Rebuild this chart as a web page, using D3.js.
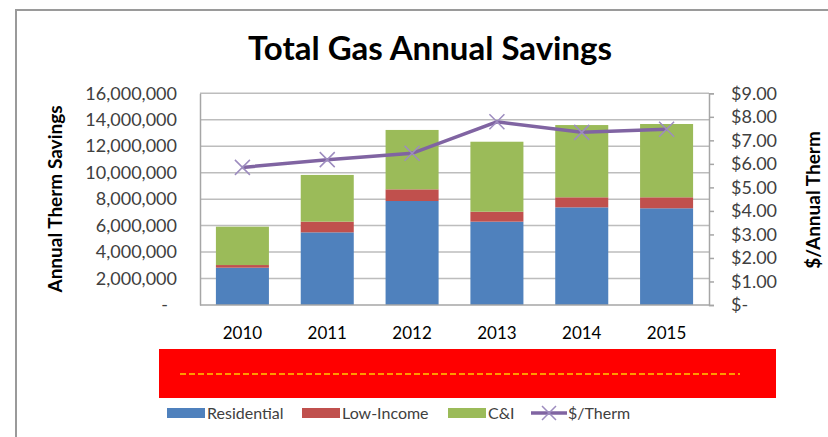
<html lang="en">
<head>
<meta charset="utf-8">
<title>Total Gas Annual Savings</title>
<script src="https://cdnjs.cloudflare.com/ajax/libs/d3/7.8.5/d3.min.js"></script>
<style>
  body { margin: 0; background: #fff; }
  text { font-family: Lato, "Open Sans", sans-serif; }
</style>
</head>
<body></body>
<script type="text/javascript">

// data
var years = ["2010", "2011", "2012", "2013", "2014", "2015"];
var residential = [2820000, 5490000, 7860000, 6300000, 7380000, 7310000];
var lowIncome = [200000, 810000, 880000, 750000, 760000, 830000];
var cni = [2900000, 3530000, 4490000, 5290000, 5460000, 5540000];
var perTherm = [5.85, 6.18, 6.45, 7.79, 7.34, 7.47];
var seriesNames = ["Residential", "Low-Income", "C&I"];
var seriesColors = ["#4f81bd", "#c0504d", "#9bbb59"];
var lineColor = "#8064a2";

/*********************************************************************/
// Canvas

var width = 828, height = 437;
var svg = d3.select("body").append("svg")
	.attr("width", width)
	.attr("height", height);

// outer frame (only left and top edges show)
svg.append("path")
	.attr("d", "M16,437 V10 H828")
	.style("fill", "none")
	.style("stroke", "#9a9a9a")
	.style("stroke-width", 2);

svg.append("text")
	.attr("x", 430)
	.attr("y", 60)
	.attr("text-anchor", "middle")
	.style("font-size", "33px")
	.style("font-weight", "bold")
	.style("fill", "#000")
	.text("Total Gas Annual Savings");

/*********************************************************************/
// Scales

var plotLeft = 200, plotRight = 709, plotTop = 93.3, plotBottom = 305;

var x = d3.scaleBand()
	.domain(years)
	.range([plotLeft, plotRight])
	.paddingInner(0.375)
	.paddingOuter(0.1875);

var y = d3.scaleLinear().domain([0, 16000000]).range([plotBottom, plotTop]);
var y2 = d3.scaleLinear().domain([0, 9]).range([plotBottom, plotTop]);

/*********************************************************************/
// Gridlines

svg.append("g")
	.selectAll("line")
	.data(d3.range(2000000, 16000001, 2000000))
	.enter().append("line")
	.attr("x1", plotLeft)
	.attr("x2", plotRight)
	.attr("y1", function(d){ return y(d); })
	.attr("y2", function(d){ return y(d); })
	.style("stroke", "#bdbdbd")
	.style("stroke-width", 1.5);

/*********************************************************************/
// Bars

var stackData = years.map(function(yr, i){
	return {year: yr, Residential: residential[i], "Low-Income": lowIncome[i], "C&I": cni[i]};
});
var stacked = d3.stack().keys(seriesNames)(stackData);

svg.append("g")
	.selectAll("g")
	.data(stacked)
	.enter().append("g")
	.style("fill", function(d, i){ return seriesColors[i]; })
	.selectAll("rect")
	.data(function(d){ return d; })
	.enter().append("rect")
	.attr("x", function(d){ return x(d.data.year); })
	.attr("width", x.bandwidth())
	.attr("y", function(d){ return y(d[1]); })
	.attr("height", function(d){ return y(d[0]) - y(d[1]); });

/*********************************************************************/
// Axes

var leftAxis = svg.append("g")
	.attr("transform", "translate(" + plotLeft + ",0)")
	.call(d3.axisLeft(y)
		.tickValues(d3.range(0, 16000001, 2000000))
		.tickSize(0)
		.tickPadding(23)
		.tickFormat(function(d){ return d === 0 ? "-" : d3.format(",")(d); }));
leftAxis.select(".domain").style("stroke", "#a6a6a6").style("stroke-width", 1.5);
leftAxis.selectAll("text")
	.style("font-size", "18px")
	.style("fill", "#404040")
	.attr("dx", function(d){ return d === 0 ? -9 : 0; });

var rightAxis = svg.append("g")
	.attr("transform", "translate(" + plotRight + ",0)")
	.call(d3.axisRight(y2)
		.ticks(9)
		.tickSize(5)
		.tickPadding(17)
		.tickFormat(function(d){ return d === 0 ? "$-" : "$" + d.toFixed(2); }));
rightAxis.select(".domain").style("stroke", "#a6a6a6").style("stroke-width", 1.5);
rightAxis.selectAll("line").style("stroke", "#a6a6a6").style("stroke-width", 1.5);
rightAxis.selectAll("text")
	.style("font-size", "18px")
	.style("fill", "#404040");

var bottomAxis = svg.append("g")
	.attr("transform", "translate(0," + plotBottom + ")")
	.call(d3.axisBottom(x).tickSize(0).tickPadding(22));
bottomAxis.select(".domain").attr("d", "M" + plotLeft + ",0H" + plotRight).style("stroke", "#a6a6a6").style("stroke-width", 1.5);
bottomAxis.selectAll("text")
	.style("font-size", "17px")
	.style("fill", "#000");

// axis titles
svg.append("text")
	.attr("transform", "translate(62,199) rotate(-90)")
	.attr("text-anchor", "middle")
	.style("font-size", "19px")
	.style("font-weight", "bold")
	.text("Annual Therm Savings");

svg.append("text")
	.attr("transform", "translate(820,200) rotate(-90)")
	.attr("text-anchor", "middle")
	.style("font-size", "19px")
	.style("font-weight", "bold")
	.text("$/Annual Therm");

/*********************************************************************/
// Line

var line = d3.line()
	.x(function(d, i){ return x(years[i]) + x.bandwidth()/2; })
	.y(function(d){ return y2(d); });

svg.append("path")
	.attr("d", line(perTherm))
	.style("fill", "none")
	.style("stroke", lineColor)
	.style("stroke-width", 3.5);

svg.append("g")
	.selectAll("path")
	.data(perTherm)
	.enter().append("path")
	.attr("transform", function(d, i){ return "translate(" + (x(years[i]) + x.bandwidth()/2) + "," + y2(d) + ")"; })
	.attr("d", "M-7.5,-7.5L7.5,7.5M-7.5,7.5L7.5,-7.5")
	.style("stroke", "#9d8cbf")
	.style("stroke-width", 1.5);

/*********************************************************************/
// Red block with dashed line

svg.append("rect")
	.attr("x", 159)
	.attr("y", 349)
	.attr("width", 617)
	.attr("height", 49)
	.style("fill", "#ff0000");

svg.append("line")
	.attr("x1", 180)
	.attr("x2", 740)
	.attr("y1", 374)
	.attr("y2", 374)
	.style("stroke", "#ff9900")
	.style("stroke-width", 2)
	.style("stroke-dasharray", "6,3");

/*********************************************************************/
// Legend

var legendX = [167, 302, 448, 531];
var legendItems = seriesNames.concat(["$/Therm"]);

var legend = svg.append("g")
	.selectAll("g")
	.data(legendItems)
	.enter().append("g")
	.attr("transform", function(d, i){ return "translate(" + legendX[i] + ",413)"; });

legend.each(function(d, i){
	var g = d3.select(this);
	if(i < 3){
		g.append("rect")
			.attr("x", 0).attr("y", -5)
			.attr("width", 38).attr("height", 10)
			.style("fill", seriesColors[i]);
	} else {
		g.append("line")
			.attr("x1", 0).attr("x2", 36).attr("y1", 0).attr("y2", 0)
			.style("stroke", lineColor).style("stroke-width", 3.5);
		g.append("path")
			.attr("d", "M11,-7L25,7M11,7L25,-7")
			.style("stroke", "#9d8cbf").style("stroke-width", 1.5);
	}
	g.append("text")
		.attr("x", i < 3 ? 40 : 37)
		.attr("y", 6)
		.style("font-size", "16px")
		.style("fill", "#404040")
		.text(d);
});

</script>
</html>
